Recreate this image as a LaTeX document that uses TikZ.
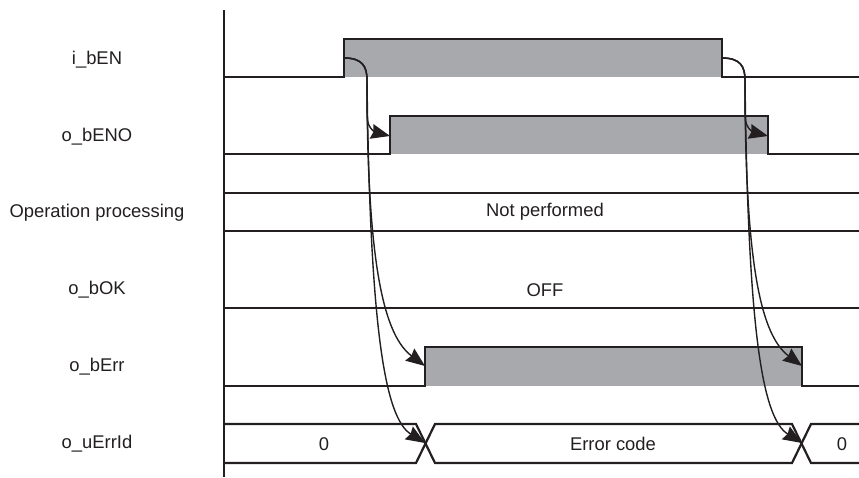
\documentclass[tikz,border=0pt]{standalone}
\usepackage{fontspec}
\setmainfont{Liberation Sans}
\usetikzlibrary{arrows.meta}
\definecolor{ink}{HTML}{231F20}
\definecolor{pulse}{HTML}{A7A9AC}
\begin{document}
\begin{tikzpicture}[x=1pt,y=-1pt,
  sig/.style={draw=ink,line width=2.2pt,line join=miter},
  flow/.style={draw=ink,line width=1.4pt,-{Stealth[length=19pt,width=15pt,inset=2pt]}},
  lbl/.style={text=ink,font=\fontsize{18.4}{22}\selectfont,inner sep=0pt}]
\useasboundingbox (0,0) rectangle (859,477);
% axis
\draw[sig] (224,10) -- (224,477);
% labels
\node[lbl] (l1) at (97,60) {i\_bEN};
\node[lbl] (l2) at (97,137) {o\_bENO};
\node[lbl] (l3) at (97,213) {Operation processing};
\node[lbl] (l4) at (97,290) {o\_bOK};
\node[lbl] (l5) at (97,367) {o\_bErr};
\node[lbl] (l6) at (97,444) {o\_uErrId};
% i_bEN
\fill[pulse] (344,39) rectangle (722,77);
\draw[sig] (224,77) -- (344,77) -- (344,39) -- (722,39) -- (722,77) -- (859,77);
% o_bENO
\fill[pulse] (390,116) rectangle (768,154);
\draw[sig] (224,154) -- (390,154) -- (390,116) -- (768,116) -- (768,154) -- (859,154);
% operation processing
\draw[sig] (224,193) -- (859,193);
\draw[sig] (224,231) -- (859,231);
\node[lbl] (np) at (545,212) {Not performed};
% o_bOK
\draw[sig] (224,308) -- (859,308);
\node[lbl] (off) at (545,290) {OFF};
% o_bErr
\fill[pulse] (425,347) rectangle (802,386);
\draw[sig] (224,386) -- (425,386) -- (425,347) -- (802,347) -- (802,386) -- (859,386);
% o_uErrId
\draw[sig] (224,424) -- (416,424) -- (435,463) -- (792,463) -- (811,424) -- (859,424);
\draw[sig] (224,463) -- (416,463) -- (435,424) -- (792,424) -- (811,463) -- (859,463);
\node[lbl] (z1) at (324,444) {0};
\node[lbl] (ec) at (613,444) {Error code};
\node[lbl] (z2) at (842,444) {0};
% connector points
\coordinate (s1) at (344,58);
\coordinate (s2) at (722,58);
\coordinate (eno1) at (390,136);
\coordinate (eno2) at (768,136);
\coordinate (err1) at (425,366);
\coordinate (err2) at (802,366);
\coordinate (id1) at (425,443);
\coordinate (id2) at (802,443);
% arrows
\foreach \s/\a/\b/\c in {s1/eno1/err1/id1, s2/eno2/err2/id2}{
  \draw[flow] (\s) .. controls ++(18,0) and ++(0,-14) .. ++(23,22) -- ++(0,36) .. controls ++(0,14) and ++(-12,-3) .. (\a);
  \draw[flow] (\s) .. controls ++(18,0) and ++(0,-14) .. ++(23,22) .. controls ++(0,190) and ++(-40,-30) .. (\b);
  \draw[flow] (\s) .. controls ++(18,0) and ++(0,-14) .. ++(23,22) .. controls ++(3,250) and ++(-40,-25) .. (\c);
}
\end{tikzpicture}
\end{document}
